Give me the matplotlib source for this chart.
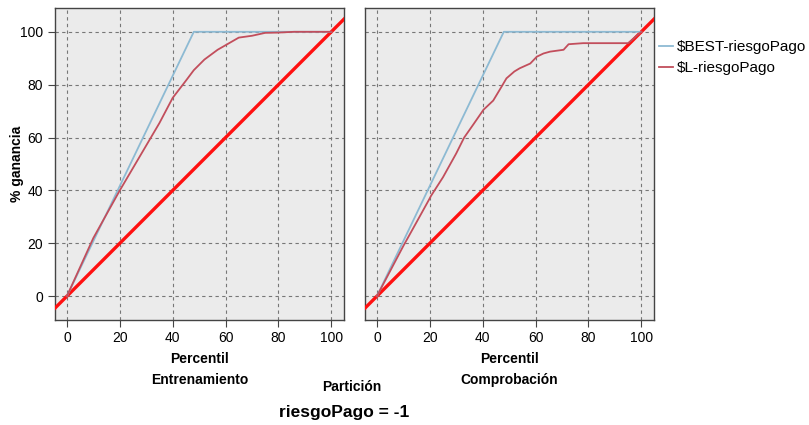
import matplotlib
matplotlib.use("Agg")
import matplotlib.pyplot as plt

plt.rcParams["font.family"] = ["Liberation Sans", "DejaVu Sans"]

# data
best_x = [0, 48, 100]
best_y = [0, 100, 100]
l_train_x = [0, 5, 10, 15, 20, 25, 30, 35, 40, 45, 48, 52, 57, 61, 65, 70, 75, 80, 86, 100]
l_train_y = [0, 11, 22, 31, 40, 48.5, 57, 65.5, 75, 81.5, 85.5, 89.5, 93.2, 95.5, 97.8, 98.5, 99.6, 99.7, 100, 100]
l_test_x = [0, 5, 10, 15, 19.7, 20.5, 25, 30, 33, 36.5, 40.3, 44, 47, 49, 52, 54, 58, 60.5, 63, 65.5, 70.6, 72.5, 78, 95, 100]
l_test_y = [0, 9.5, 19, 28, 36.5, 38, 45, 54, 60, 65, 70.5, 74, 79, 82.4, 85, 86.2, 88, 90.6, 91.8, 92.5, 93.2, 95.3, 95.7, 95.7, 100]
panels = [("Entrenamiento", l_train_x, l_train_y), ("Comprobación", l_test_x, l_test_y)]
ticks = [0, 20, 40, 60, 80, 100]

W, H = 809, 425
fig = plt.figure(figsize=(W / 100, H / 100), dpi=100)
lefts = [55, 365]
for k, (part, lx, ly) in enumerate(panels):
    ax = fig.add_axes([lefts[k] / W, 1 - 320 / H, 289 / W, 312 / H])
    ax.set_facecolor("#EBEBEB")
    ax.set_xlim(-4.5, 104.8)
    ax.set_ylim(-9, 109)
    ax.set_xticks(ticks)
    ax.set_yticks(ticks)
    ax.grid(True, ls=(0, (3, 3)), color="#777777", lw=0.8)
    ax.set_axisbelow(True)
    for s in ax.spines.values():
        s.set_color("#444444")
        s.set_linewidth(1.0)
    ax.tick_params(axis="x", direction="out", length=5, color="#444444", labelsize=10, pad=3)
    if k == 0:
        ax.tick_params(axis="y", direction="out", length=5, color="#444444", labelsize=10)
    else:
        ax.tick_params(axis="y", length=0, labelleft=False)
    ax.plot([-10, 110], [-10, 110], color="#FF1010", lw=2.4, zorder=3)
    ax.plot(best_x, best_y, color="#8DBAD3", lw=1.3, zorder=4, label="$BEST-riesgoPago")
    ax.plot(lx, ly, color="#C24E5C", lw=1.3, zorder=5, label="$L-riesgoPago")
    ax.set_xlabel("Percentil\n" + part, fontsize=10, fontweight="bold", linespacing=1.6, labelpad=5)
    if k == 1:
        ax.legend(loc="upper left", bbox_to_anchor=(659 / W, 1 - 40 / H), bbox_transform=fig.transFigure,
                  frameon=False, fontsize=11, handlelength=0.9, handletextpad=0.25,
                  labelspacing=0.45, borderaxespad=0, borderpad=0)

fig.text(17 / W, 1 - 164 / H, "% ganancia", ha="center", va="center", rotation=90,
         fontsize=10, fontweight="bold")
fig.text(352 / W, 1 - 387 / H, "Partición", ha="center", va="center", fontsize=10, fontweight="bold")
fig.text(344 / W, 1 - 412 / H, "riesgoPago = -1", ha="center", va="center", fontsize=12.5, fontweight="bold")
fig.savefig("out.png", dpi=100)
